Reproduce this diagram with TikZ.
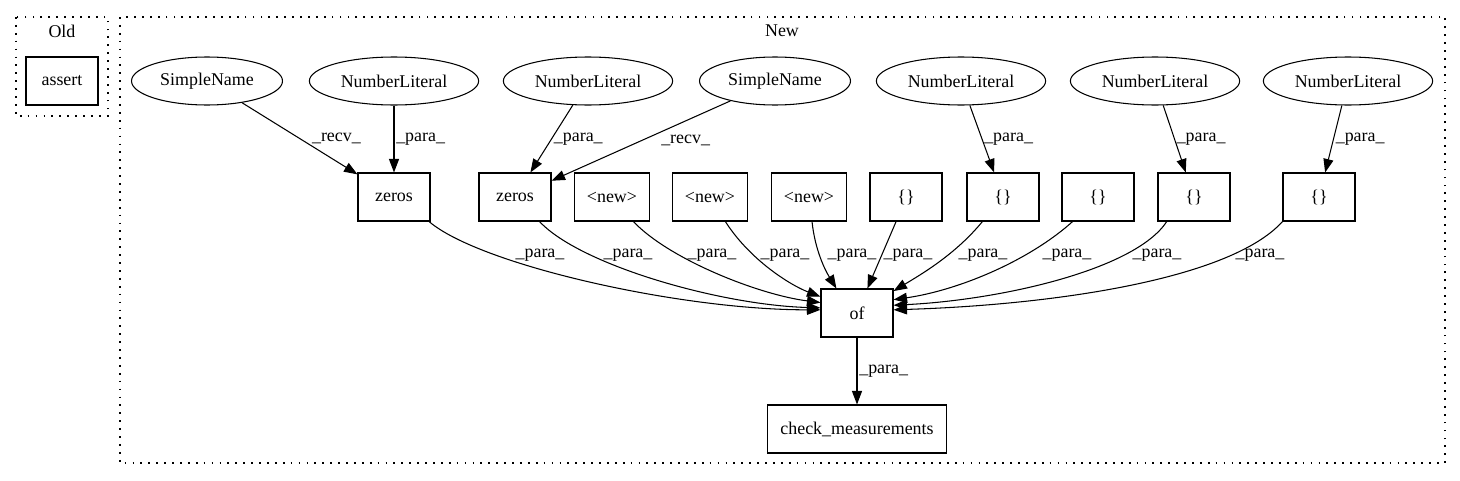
\documentclass[tikz,border=0pt]{standalone}
\usepackage{fontspec}
\setmainfont{Liberation Serif}
\usetikzlibrary{shapes.geometric,arrows.meta}

\begin{document}
\begin{tikzpicture}[x=0.02cm,y=-0.02cm,line width=0.6pt]
        \tikzstyle{every node}=[font=\fontsize{10.2}{12}\selectfont]
        \tikzstyle{box}=[rectangle, draw, minimum width=1.44cm, minimum height=0.96cm, inner xsep=0.25cm]
        \tikzstyle{oval}=[ellipse, draw, minimum height=0.96cm, inner xsep=0.132cm, inner ysep=0.05cm]
        \tikzstyle{edge}=[-{Triangle[length=0.27cm,width=0.2cm]}]
        \tikzstyle{lbl}=[inner sep=1pt]
        \tikzstyle{cluster}=[draw, dash pattern=on 1pt off 3.5pt]
        \useasboundingbox (0,0) rectangle (1460,480);

        % Clusters
        \draw[cluster] (16,17) rectangle (108,116);
        \draw[cluster] (120,17) rectangle (1445,463);
        \node (oldlabel) at (62,31) {Old};
        \node (newlabel) at (782,31) {New};

        % Nodes
        \node (assert) [box] at (62,81) {assert};
        \node (simplename1) [oval] at (207,81) {SimpleName};
        \node (numlit1) [oval] at (394,81) {NumberLiteral};
        \node (numlit2) [oval] at (588,81) {NumberLiteral};
        \node (simplename2) [oval] at (775,81) {SimpleName};
        \node (numlit3) [oval] at (961,81) {NumberLiteral};
        \node (numlit4) [oval] at (1155,81) {NumberLiteral};
        \node (numlit5) [oval] at (1348,81) {NumberLiteral};
        \node (zeros1) [box] at (394,197) {zeros};
        \node (zeros2) [box] at (515,197) {zeros};
        \node (new1) [box] at (612,197) {<new>};
        \node (new2) [box] at (710,197) {<new>};
        \node (new3) [box] at (809,197) {<new>};
        \node (brace1) [box] at (906,197) {\{\}};
        \node (brace2) [box] at (1003,197) {\{\}};
        \node (brace3) [box] at (1098,197) {\{\}};
        \node (brace4) [box] at (1194,197) {\{\}};
        \node (brace5) [box] at (1319,197) {\{\}};
        \node (of) [box] at (857,313) {of};
        \node (check) [box] at (857,429) {check\_measurements};

        % Edges
        \draw[edge] (simplename1) -- (zeros1) node[lbl, midway, right, xshift=0.2cm] {\_recv\_};
        \draw[edge] (numlit1) -- (zeros1) node[lbl, midway, right] {\_para\_};
        \draw[edge] (numlit2) -- (zeros2) node[lbl, midway, right] {\_para\_};
        \draw[edge] (simplename2) -- (zeros2) node[lbl, midway, right, xshift=0.36cm] {\_recv\_};
        \draw[edge] (numlit3) -- (brace2) node[lbl, midway, right] {\_para\_};
        \draw[edge] (numlit4) -- (brace4) node[lbl, midway, right] {\_para\_};
        \draw[edge] (numlit5) -- (brace5) node[lbl, midway, right] {\_para\_};
        \draw[edge] (zeros1.-35) .. controls (480,265) and (680,310) .. (of.175);
        \draw[edge] (zeros2.-45) .. controls (580,265) and (720,305) .. (of.172);
        \draw[edge] (new1.-49) .. controls (670,260) and (760,295) .. (of.164);
        \draw[edge] (new2.-58) .. controls (750,260) and (790,285) .. (of.156);
        \draw[edge] (new3.-83) .. controls (815,250) and (825,270) .. (of.130);
        \draw[edge] (brace1.-112) -- (of.67);
        \draw[edge] (brace2.-130) .. controls (955,255) and (920,275) .. (of.31);
        \draw[edge] (brace3.-136) .. controls (1030,260) and (960,290) .. (of.20);
        \draw[edge] (brace4.-138) .. controls (1135,270) and (1000,300) .. (of.12);
        \draw[edge] (brace5.south west) .. controls (1230,280) and (1050,305) .. (of.5);
        \draw[edge] (of) -- (check) node[lbl, midway, right] {\_para\_};
        \foreach \x [count=\i] in {540,628,712,785,852,908,983,1067,1157,1260}
            \node (para\i) [lbl] at (\x,255) {\_para\_};

    \end{tikzpicture}
\end{document}
